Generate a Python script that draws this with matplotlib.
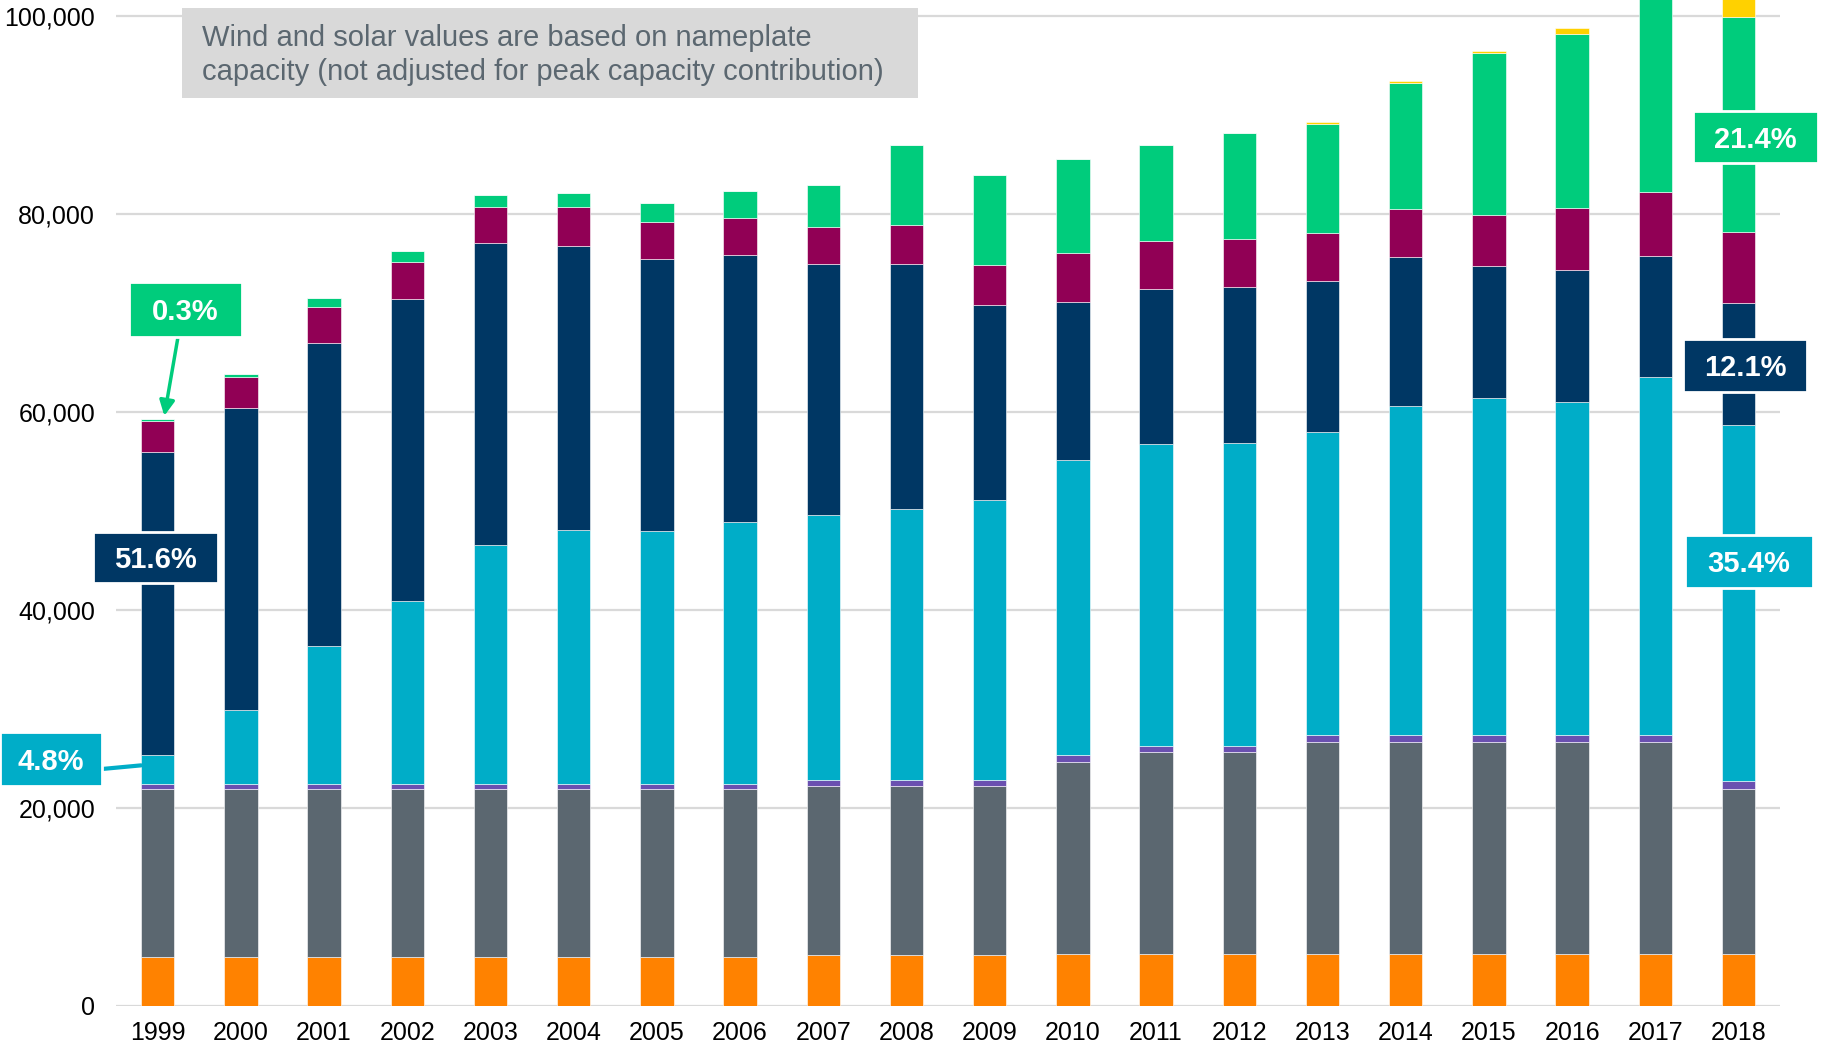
import matplotlib
matplotlib.use('Agg')
from matplotlib import pyplot as plt
import matplotlib.patches as patches
import numpy as np

plt.rcParams['font.family'] = ['Liberation Sans', 'DejaVu Sans']

years = [str(y) for y in range(1999, 2019)]

# capacity by type, MW (bottom to top)
orange = [4900] * 8 + [5100] * 3 + [5200] * 9
gray = [17000] * 8 + [17100] * 3 + [19400, 20400, 20400] + [21500] * 5 + [16700]
purple = [500] * 8 + [600] * 3 + [700] * 8 + [800]
cyan = [2900, 7500, 14000, 18500, 24200, 25700, 25600, 26500, 26800, 27400,
        28300, 29800, 30500, 30600, 30600, 33200, 34000, 33600, 36100, 36000]
navy = [30600, 30500, 30600, 30500, 30500, 28700, 27400, 26900, 25300, 24700,
        19700, 16000, 15600, 15700, 15200, 15000, 13300, 13300, 12200, 12300]
maroon = [3200, 3100, 3600, 3700, 3600, 3900, 3800, 3800, 3800, 4000,
          4000, 4900, 4900, 4900, 4900, 4900, 5200, 6300, 6500, 7200]
green = [200, 300, 900, 1100, 1200, 1400, 1900, 2700, 4200, 8100,
         9100, 9500, 9700, 10700, 11000, 12700, 16300, 17600, 19600, 21700]
yellow = [0] * 14 + [200, 200, 200, 600, 1200, 1800]

series = [orange, gray, purple, cyan, navy, maroon, green, yellow]
colors = ['#FF8200', '#5B6770', '#6A50B0', '#00ADC8', '#003764', '#910055', '#00CC7C', '#FFD100']

yticks = [0, 20000, 40000, 60000, 80000, 100000]
note = 'Wind and solar values are based on nameplate\ncapacity (not adjusted for peak capacity contribution)'

# share labels: text, colour, box centre and size in figure pixels (from top-left)
share_labels = [
    ('0.3%', colors[6], 185.5, 309.5, 113, 55),
    ('51.6%', colors[4], 155.5, 557.5, 125, 51),
    ('4.8%', colors[3], 51, 759, 102, 54),
    ('21.4%', colors[6], 1755.5, 137, 125, 52),
    ('12.1%', colors[4], 1745, 365.5, 124, 53),
    ('35.4%', colors[3], 1749, 561.5, 128, 53),
]

W, H = 1822, 1047
fig = plt.figure(figsize=(W / 100, H / 100), dpi=100)
ax = fig.add_axes([0.0637, 0.0392, 0.9133, 0.9608])

x = np.arange(len(years))
bottom = np.zeros(len(years))
for vals, c in zip(series, colors):
    ax.bar(x, vals, width=0.4, bottom=bottom, color=c, edgecolor='white', linewidth=0.4, zorder=3)
    bottom += np.array(vals)

ax.set_xlim(-0.5, len(years) - 0.5)
ax.set_ylim(0, 101600)
ax.set_yticks(yticks)
ax.set_yticklabels(['{:,}'.format(v) for v in yticks])
ax.set_xticks(x)
ax.set_xticklabels(years)
ax.tick_params(axis='y', length=0, pad=15, labelsize=18)
ax.tick_params(axis='x', length=0, pad=11, labelsize=18)
ax.yaxis.grid(True, color='#D9D9D9', linewidth=1.6, zorder=0)
ax.set_axisbelow(True)
for s in ax.spines.values():
    s.set_visible(False)

# arrows / connectors from boxes to bars
ax.annotate('', xy=(0.08, 59600), xytext=(178 / W, 1 - 337 / H), textcoords='figure fraction',
            arrowprops=dict(arrowstyle='-|>,head_width=0.45,head_length=0.9', color=colors[6], lw=2.5,
                            shrinkA=0, shrinkB=0), zorder=5)
ax.annotate('', xy=(-0.2, 24300), xytext=(102 / W, 1 - 769 / H), textcoords='figure fraction',
            arrowprops=dict(arrowstyle='-', color=colors[3], lw=3, shrinkA=0, shrinkB=0),
            annotation_clip=False, zorder=5)

for txt, c, cx, cy, bw, bh in share_labels:
    fig.patches.append(patches.Rectangle(((cx - bw / 2) / W, 1 - (cy + bh / 2) / H), bw / W, bh / H,
                                         transform=fig.transFigure, facecolor=c, edgecolor='white',
                                         linewidth=2, zorder=6))
    fig.text(cx / W, 1 - cy / H, txt, color='white', fontsize=21, fontweight='bold',
             ha='center', va='center_baseline', zorder=7)

fig.patches.append(patches.Rectangle((182 / W, 1 - 98 / H), 736 / W, 90 / H, transform=fig.transFigure,
                                     facecolor='#D9D9D9', edgecolor='none', zorder=6))
fig.text(202 / W, 1 - 55 / H, note, fontsize=21, color='#5B6770', ha='left', va='center',
         linespacing=1.3, zorder=7)

fig.savefig('out.png', dpi=100)
